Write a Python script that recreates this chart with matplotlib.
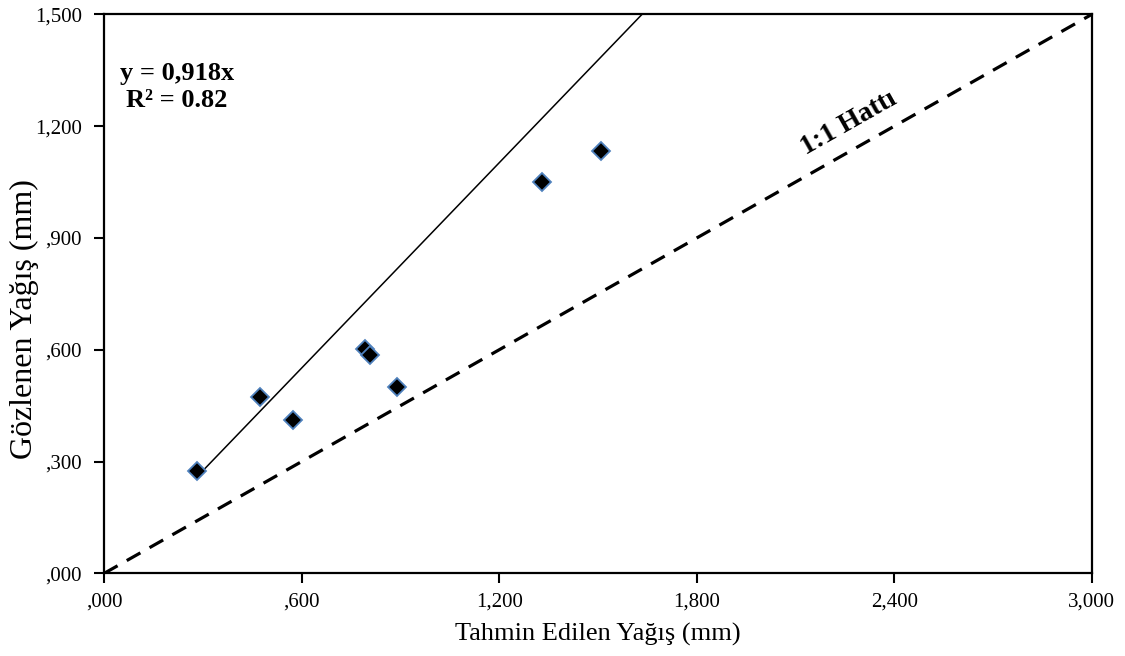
import numpy as np
import matplotlib
matplotlib.use("Agg")
import matplotlib.pyplot as plt
from matplotlib.ticker import FuncFormatter

# Observed vs predicted precipitation
predicted = [0.282, 0.474, 0.573, 0.793, 0.808, 0.889, 1.331, 1.510]
observed = [0.275, 0.474, 0.412, 0.602, 0.586, 0.500, 1.049, 1.133]
slope = 0.918
r2 = 0.82
one_to_one = [0.0, 3.0]  # drawn as y = x/2 in the original axis units
x_ticks = [0.0, 0.6, 1.2, 1.8, 2.4, 3.0]
y_ticks = [0.0, 0.3, 0.6, 0.9, 1.2, 1.5]

plt.rcParams["font.family"] = ["Liberation Serif", "DejaVu Serif"]


def tr_fmt(v, pos):
    # Excel-style: ",300" / "1,200"
    s = f"{v:.3f}".replace(".", ",")
    if s.startswith("0,"):
        s = s[1:]
    return s


fig = plt.figure(figsize=(11.25, 6.56), dpi=100)
ax = fig.add_axes([0.0924, 0.1258, 0.8782, 0.8524])

# 1:1 line
ax.plot(one_to_one, [v / 2 for v in one_to_one], color="black",
        linestyle=(0, (4.9, 3.3)), linewidth=2.3, zorder=2)

# trend line through origin
x_line = np.array([min(predicted), 1.5 / slope + 0.05])
ax.plot(x_line, slope * x_line, color="black", linewidth=1.1, zorder=2)

ax.plot(predicted, observed, linestyle="none", marker="D", markersize=9,
        markerfacecolor="black", markeredgecolor="#4F81BD",
        markeredgewidth=1.3, zorder=3)

ax.set_xlim(0, 3.0)
ax.set_ylim(0, 1.5)
ax.set_xticks(x_ticks)
ax.set_yticks(y_ticks)
ax.xaxis.set_major_formatter(FuncFormatter(tr_fmt))
ax.yaxis.set_major_formatter(FuncFormatter(tr_fmt))
ax.tick_params(axis="both", direction="out", length=7, width=1.5, labelsize=15)
ax.tick_params(axis="y", pad=9)
ax.tick_params(axis="x", pad=7)

for sp in ax.spines.values():
    sp.set_linewidth(1.6)

ax.set_xlabel("Tahmin Edilen Yağış (mm)", fontsize=19)
ax.set_ylabel("Gözlenen Yağış (mm)", fontsize=23)
ax.xaxis.set_label_coords(0.4995, -0.088)
ax.yaxis.set_label_coords(-0.066, 0.455)

ax.text(0.074, 0.870, f"y = {slope:.3f}x".replace(".", ",") + f"\nR² = {r2:.2f}",
        transform=ax.transAxes, fontsize=19, fontweight="bold",
        ha="center", va="center", multialignment="center", linespacing=1.25)

ax.text(2.263, 1.208, "1:1 Hattı", fontsize=20, fontweight="bold",
        rotation=29.5, ha="center", va="center", rotation_mode="anchor")

fig.savefig("out.png", dpi=100)
